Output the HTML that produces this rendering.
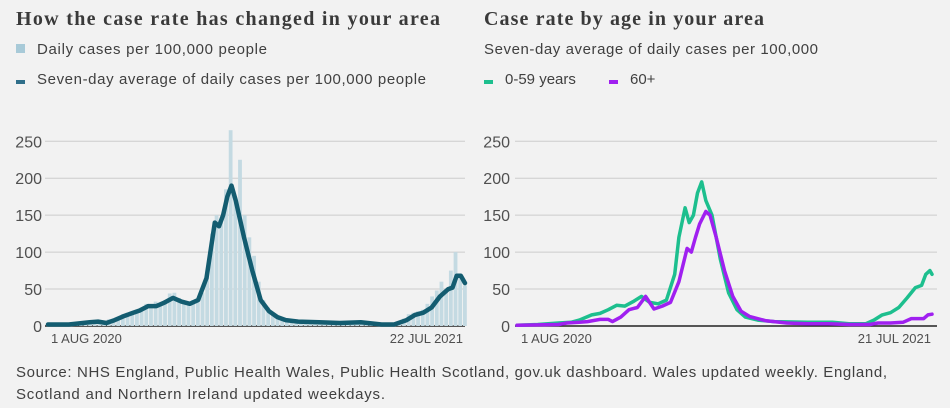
<!DOCTYPE html>
<html><head><meta charset="utf-8"><style>
html,body{margin:0;padding:0;background:#f2f2f2;}
svg{display:block;font-family:"Liberation Sans",sans-serif;}
</style></head><body>
<svg id="c" width="950" height="408">
<text x="16" y="25" font-family="Liberation Serif,serif" font-weight="bold" font-size="20" fill="#3a3a3a" textLength="424">How the case rate has changed in your area</text>
<rect x="16" y="44" width="9" height="9" fill="#a8cad8"/>
<text x="37" y="54" font-size="15" fill="#404040" textLength="230">Daily cases per 100,000 people</text>
<rect x="16" y="80" width="9" height="4" fill="#2f6f8a"/>
<text x="37" y="84" font-size="15" fill="#404040" textLength="389">Seven-day average of daily cases per 100,000 people</text>
<text x="484" y="25" font-family="Liberation Serif,serif" font-weight="bold" font-size="20" fill="#3a3a3a" textLength="280">Case rate by age in your area</text>
<text x="484" y="54" font-size="15" fill="#404040" textLength="334">Seven-day average of daily cases per 100,000</text>
<rect x="484" y="80" width="9" height="4" fill="#1dbf8e"/>
<text x="505" y="84" font-size="15" fill="#404040">0-59 years</text>
<rect x="609" y="80" width="9" height="4" fill="#a020f0"/>
<text x="630" y="84" font-size="15" fill="#404040">60+</text>
<g id="L"></g><g id="R"></g>
<text x="16" y="377" font-size="15" fill="#404040" textLength="871">Source: NHS England, Public Health Wales, Public Health Scotland, gov.uk dashboard. Wales updated weekly. England,</text>
<text x="16" y="399" font-size="15" fill="#404040" textLength="369">Scotland and Northern Ireland updated weekdays.</text>
</svg>
<script>
const yTicks=[0,50,100,150,200,250];
const barDays=[];for(let d=0;d<=356;d+=4)barDays.push(d);
const barValues=[2,2,2,3,3,3,4,5,6,5,6,4,5,9,10,12,16,18,17,22,25,30,24,33,28,35,44,45,38,30,28,35,32,45,75,125,150,140,185,265,175,225,150,120,95,60,35,25,15,12,9,8,7,6,5,6,4,6,5,4,5,6,4,5,4,5,6,4,3,4,2,2,3,2,3,5,10,16,18,20,22,30,40,48,60,50,75,100,65,55];
const avgT=[0,.05,.1,.12,.14,.16,.18,.2,.22,.24,.26,.28,.3,.32,.34,.36,.38,.4,.41,.42,.43,.44,.45,.47,.49,.51,.53,.55,.57,.6,.65,.7,.75,.8,.83,.86,.88,.9,.92,.94,.96,.97,.98,.99,1];
const avgValues=[2,2,5,6,4,8,13,17,21,27,27,32,38,33,30,35,65,140,135,150,175,190,170,120,75,35,20,12,8,6,5,4,5,2,2,8,15,18,25,40,50,52,68,68,58];
const youngT=[0,.05,.1,.13,.15,.18,.2,.22,.24,.26,.28,.3,.32,.34,.36,.38,.39,.405,.415,.425,.435,.445,.455,.47,.49,.51,.53,.55,.58,.62,.7,.76,.8,.84,.86,.88,.9,.92,.94,.96,.975,.985,.995,1];
const youngValues=[1,2,4,5,8,15,17,22,28,27,33,40,32,30,35,70,120,160,140,150,180,195,170,150,90,45,22,12,8,6,5,5,3,3,8,15,18,25,38,52,55,70,75,70];
const oldT=[0,.1,.12,.15,.17,.2,.22,.23,.25,.27,.29,.31,.33,.35,.37,.39,.41,.42,.43,.44,.455,.465,.48,.5,.52,.54,.56,.6,.65,.7,.75,.8,.85,.87,.9,.93,.95,.98,.99,1];
const oldValues=[1,2,4,5,6,9,9,6,12,22,25,40,23,27,32,60,105,100,120,138,155,150,120,75,40,20,13,7,4,3,3,2,2,4,4,5,10,10,15,16];
const NS='http://www.w3.org/2000/svg';
function mk(p,tag,a){const e=document.createElementNS(NS,tag);for(const k in a)e.setAttribute(k,a[k]);p.appendChild(e);return e;}
const y=v=>326-v*(184.7/250);
function axes(g,x0,x1,lx,startLbl,endLbl,endX,prefix){
  yTicks.forEach(t=>{
    const l=mk(g,'line',{x1:x0,x2:x1,y1:y(t),y2:y(t),stroke:t?'#cccccc':'#222','stroke-width':t?1:1.5});
    
    
    const tx=mk(g,'text',{x:lx,y:y(t)+6,'text-anchor':'end','font-size':16,fill:'#505050'});tx.textContent=t;
    
    
  });
  const s=mk(g,'text',{x:x0+6,y:343,'font-size':13,fill:'#505050'});s.textContent=startLbl;
  
  
  const e=mk(g,'text',{x:endX,y:343,'font-size':13,fill:'#505050','text-anchor':'end'});e.textContent=endLbl;
  
  
}
function line(g,xs,ts,vs,col,w,name){
  const d=ts.map((t,i)=>(i?'L':'M')+xs(t).toFixed(1)+','+y(vs[i]).toFixed(1)).join('');
  const p=mk(g,'path',{d:d,fill:'none',stroke:col,'stroke-width':w,'stroke-linejoin':'round','stroke-linecap':'round'});
  
  
}
const L=document.getElementById('L'),R=document.getElementById('R');
axes(L,45,465,42,'1 AUG 2020','22 JUL 2021',463,'left');
const xl=t=>48+t*417;
barDays.forEach((d,i)=>{
  const b=mk(L,'rect',{x:xl(d/356)-2,y:y(barValues[i]),width:3.8,height:326-y(barValues[i]),fill:'#c4dae2'});
  
  
});
line(L,xl,avgT,avgValues,'#135c70',4.5,'seven-day-average-line');
axes(R,515,937,510,'1 AUG 2020','21 JUL 2021',931,'right');
const xr=t=>517+t*415;
line(R,xr,youngT,youngValues,'#1dbf8e',3.5,'age-0-59-line');
line(R,xr,oldT,oldValues,'#a020f0',3.5,'age-60-plus-line');
</script>
</body></html>
